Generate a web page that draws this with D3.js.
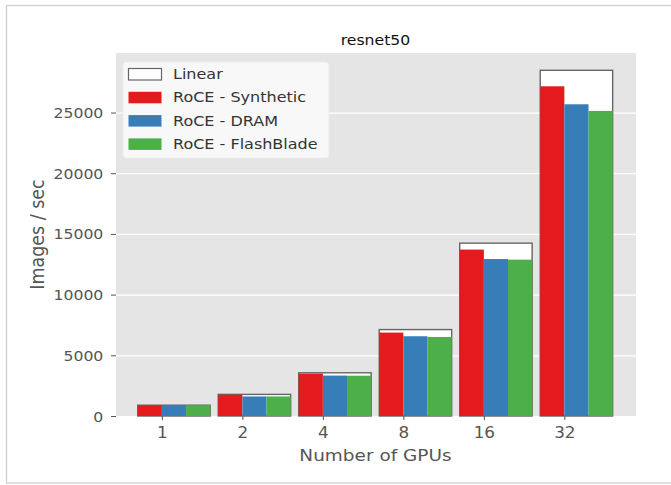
<!DOCTYPE html>
<html>
<head>
<meta charset="utf-8">
<script src="https://cdn.jsdelivr.net/npm/d3@7"></script>
<style>
	body {margin: 0; background: #fff;}
	svg {display: block; font-family: 'DejaVu Sans', sans-serif;}
</style>
</head>
<body>
<svg id="chart" width="671" height="485"></svg>
<script>
var gpus = ['1', '2', '4', '8', '16', '32'];
var linear = [890, 1780, 3560, 7120, 14240, 28480];
var synthetic = [885, 1750, 3495, 6870, 13710, 27160];
var dram = [880, 1610, 3330, 6570, 12930, 25680];
var flashblade = [880, 1610, 3320, 6510, 12880, 25130];
var yTicks = [0, 5000, 10000, 15000, 20000, 25000];
var seriesNames = ['Linear', 'RoCE - Synthetic', 'RoCE - DRAM', 'RoCE - FlashBlade'];

(function() {
	'use strict';

	var svg = d3.select('#chart');
	var stretch = 'scale(1.12,1)';   // source picture is a bit wide
	var left = 116, right = 636, top = 53, bottom = 416;

	var x = d3.scaleLinear().domain([-0.57, 5.89]).range([left, right]);
	var y = d3.scaleLinear().domain([0, d3.max(linear) * 1.05]).range([bottom, top]);
	var unit = x(1) - x(0);

	// outer frame
	svg.append('rect')
		.attr('x', 6.5).attr('y', 5.5)
		.attr('width', 700).attr('height', 477.5)
		.attr('fill', 'none').attr('stroke', '#cfcfcf').attr('stroke-width', 1.3);

	svg.append('rect')
		.attr('x', left).attr('y', top)
		.attr('width', right - left).attr('height', bottom - top)
		.attr('fill', '#e5e5e5');

	svg.append('g').selectAll('line').data(yTicks).enter().append('line')
		.attr('x1', left).attr('x2', right)
		.attr('y1', function(d) {return y(d) + 0.5;})
		.attr('y2', function(d) {return y(d) + 0.5;})
		.attr('stroke', '#fff').attr('stroke-width', 1.2);

	// linear first, colored bars go over it
	svg.append('g').selectAll('rect').data(linear).enter().append('rect')
		.attr('x', function(d, i) {return x(i - 0.3);})
		.attr('y', function(d) {return y(d);})
		.attr('width', unit * 0.9)
		.attr('height', function(d) {return y(0) - y(d);})
		.attr('fill', '#fff').attr('stroke', '#666').attr('stroke-width', 1.4);

	var series = [
		{values: synthetic, offset: -0.3, color: '#e41a1c'},
		{values: dram, offset: 0, color: '#377eb8'},
		{values: flashblade, offset: 0.3, color: '#4daf4a'}];

	series.forEach(function(s) {
		svg.append('g').selectAll('rect').data(s.values).enter().append('rect')
			.attr('x', function(d, i) {return x(i + s.offset);})
			.attr('y', function(d) {return y(d);})
			.attr('width', unit * 0.3)
			.attr('height', function(d) {return y(0) - y(d);})
			.attr('fill', s.color);});

	var xAxis = svg.append('g')
		.attr('transform', 'translate(0,' + bottom + ')')
		.call(d3.axisBottom(x).tickValues(d3.range(gpus.length))
			.tickFormat(function(i) {return gpus[i];})
			.tickSize(4).tickPadding(7));
	var yAxis = svg.append('g')
		.attr('transform', 'translate(' + left + ',0)')
		.call(d3.axisLeft(y).tickValues(yTicks).tickFormat(d3.format('d')).tickSize(5));

	[xAxis, yAxis].forEach(function(axis) {
		axis.select('.domain').remove();
		axis.selectAll('line').attr('stroke', '#555');
		axis.selectAll('text')
			.attr('fill', '#555')
			.attr('font-size', 14)
			.attr('font-family', 'DejaVu Sans')
			.attr('transform', stretch);});
	xAxis.selectAll('text').attr('font-size', 15);
	yAxis.selectAll('text').attr('x', -11.3).attr('dy', '0.36em');

	svg.append('text')
		.attr('transform', 'translate(375.5,45) ' + stretch)
		.attr('text-anchor', 'middle').attr('font-size', 14).attr('fill', '#111')
		.text('resnet50');

	svg.append('text')
		.attr('transform', 'translate(375.5,461) ' + stretch)
		.attr('text-anchor', 'middle').attr('font-size', 16.5).attr('fill', '#555')
		.text('Number of GPUs');

	svg.append('text')
		.attr('transform', 'translate(44,' + ((top + bottom) / 2) + ') ' + stretch + ' rotate(-90)')
		.attr('text-anchor', 'middle').attr('font-size', 17.5).attr('fill', '#555')
		.text('Images / sec');

	// legend
	var legend = svg.append('g').attr('transform', 'translate(123,62)');
	legend.append('rect')
		.attr('width', 206).attr('height', 96).attr('rx', 3)
		.attr('fill', '#f8f8f8').attr('stroke', '#ececec');

	var colors = ['#fff', '#e41a1c', '#377eb8', '#4daf4a'];
	var rows = legend.selectAll('g.row').data(seriesNames).enter().append('g')
		.attr('class', 'row')
		.attr('transform', function(d, i) {return 'translate(0,' + (12 + i * 23.3) + ')';});
	rows.append('rect')
		.attr('x', 5.5).attr('y', -5.5).attr('width', 33).attr('height', 11.5)
		.attr('fill', function(d, i) {return colors[i];})
		.attr('stroke', function(d, i) {return i === 0 ? '#666' : 'none';})
		.attr('stroke-width', 1.2);
	rows.append('text')
		.attr('transform', 'translate(50,0) ' + stretch)
		.attr('dy', '0.36em').attr('font-size', 14.3).attr('fill', '#333')
		.text(function(d) {return d;});
})();
</script>
</body>
</html>
